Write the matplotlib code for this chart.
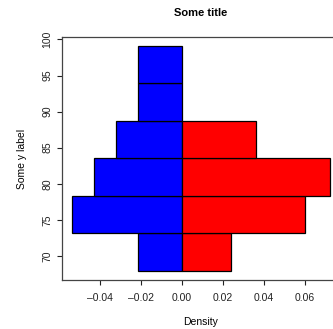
import matplotlib.pyplot as plt
import numpy as np

plt.rcParams['font.family'] = ['Liberation Sans', 'DejaVu Sans']

# histogram bins shared by both groups
bin_edges = [67.9, 73.1, 78.3, 83.5, 88.7, 93.9, 99.1]
blue_counts = [2, 5, 4, 3, 2, 2]
red_counts = [2, 5, 6, 3, 0, 0]

x_ticks = [-0.04, -0.02, 0.00, 0.02, 0.04, 0.06]
y_ticks = [70, 75, 80, 85, 90, 95, 100]

edges = np.array(bin_edges)
widths = np.diff(edges)
blue_dens = np.array(blue_counts) / (sum(blue_counts) * widths)
red_dens = np.array(red_counts) / (sum(red_counts) * widths)

fig = plt.figure(figsize=(3.33, 3.29), dpi=100)
ax = fig.add_axes([0.186, 0.149, 0.835, 0.7386])

ax.barh(edges[:-1], -blue_dens, height=widths, align='edge',
        color='#0000ff', edgecolor='black', linewidth=0.9)
keep = red_dens > 0
ax.barh(edges[:-1][keep], red_dens[keep], height=widths[keep], align='edge',
        color='#ff0000', edgecolor='black', linewidth=0.9)

lo = -blue_dens.max()
hi = red_dens.max()
pad = 0.04 * (hi - lo)
ax.set_xlim(lo - pad, hi + pad)
ypad = 0.04 * (edges[-1] - edges[0])
ax.set_ylim(edges[0] - ypad, edges[-1] + ypad)

ax.set_xticks(x_ticks)
ax.set_xticklabels([f"{v:.2f}".replace('-', '\u2013') for v in x_ticks])
ax.set_yticks(y_ticks)
ax.set_yticklabels([str(v) for v in y_ticks], rotation=90, va='center')
ax.tick_params(direction='out', length=3.6, width=0.8, labelsize=7.5, colors='#222222')
ax.tick_params(axis='x', pad=6)
ax.tick_params(axis='y', pad=3.5)

for side in ['left', 'bottom', 'top', 'right']:
    ax.spines[side].set_color('#444444')
    ax.spines[side].set_linewidth(0.9)

ax.set_xlabel('Density', fontsize=7.5, labelpad=10)
ax.set_ylabel('Some y label', fontsize=7.5, labelpad=10.5)
fig.text(201 / 333, 1 - 13 / 329, 'Some title', ha='center', va='center',
         fontsize=8, fontweight='bold')

fig.savefig('out.png', dpi=100)
